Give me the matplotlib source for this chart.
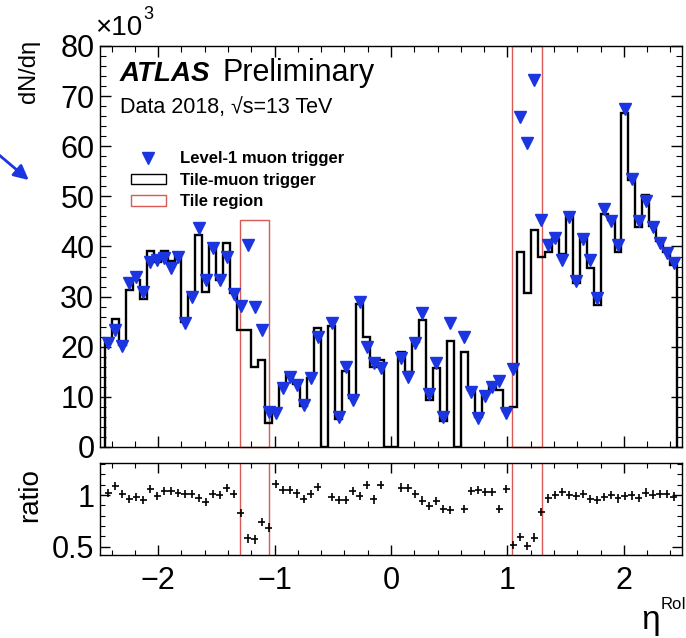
import numpy as np
import matplotlib
matplotlib.use("Agg")
import matplotlib.pyplot as plt
from matplotlib.patches import Rectangle, Patch, FancyArrowPatch
from matplotlib.lines import Line2D
from matplotlib.ticker import MultipleLocator, FixedLocator

# 82 RoI eta bins, 0.06 wide
edges = np.linspace(-2.46, 2.46, 83)

# Level-1 muon trigger, dN/deta [x1e3]
l1 = [20.8, 23.4, 20.2, 32.7, 34.0, 31.0, 37.0, 37.3, 37.7, 35.7,
      38.0, 24.8, 30.0, 43.6, 33.3, 39.7, 33.3, 38.0, 30.5, 28.2,
      40.3, 28.0, 23.4, 7.0, 6.7, 11.7, 14.0, 12.4, 8.4, 13.7,
      22.0, 0.0, 24.7, 5.9, 15.9, 9.4, 28.9, 20.0, 16.7, 15.8,
      0.0, 0.0, 17.7, 14.0, 20.7, 26.7, 10.5, 16.7, 5.9, 24.7,
      0.0, 22.0, 11.0, 5.7, 10.2, 12.0, 13.2, 6.7, 15.5, 65.9,
      60.6, 73.3, 45.3, 40.3, 41.6, 37.3, 45.8, 33.2, 41.5, 37.3,
      29.7, 47.5, 45.0, 40.2, 67.4, 53.5, 45.0, 49.0, 43.8, 40.7,
      38.7, 36.8]

# Tile-muon trigger, dN/deta [x1e3]
tile = [21.2, 25.5, 20.4, 31.4, 33.3, 29.5, 39.2, 36.9, 39.2, 37.1,
        38.8, 25.0, 30.3, 42.3, 31.0, 40.1, 33.3, 40.7, 30.8, 23.4,
        23.4, 16.0, 17.3, 4.8, 7.4, 12.3, 14.7, 12.6, 8.1, 13.8,
        23.8, 0.0, 24.2, 5.6, 15.1, 9.8, 28.6, 22.0, 16.0, 17.4,
        0.0, 0.0, 19.0, 15.0, 20.9, 25.3, 9.4, 15.7, 5.1, 21.2,
        0.0, 19.0, 11.4, 6.0, 10.5, 12.4, 11.4, 7.1, 8.0, 39.0,
        30.7, 43.2, 38.0, 39.0, 41.5, 38.5, 46.0, 32.8, 42.0, 35.8,
        28.3, 46.5, 45.2, 38.9, 66.6, 53.3, 43.8, 50.2, 44.0, 41.0,
        39.0, 36.3]

# Tile regions in eta and the height of their boxes in the top pad
tile_lo = [-1.30, 1.04]
tile_hi = [-1.05, 1.30]
tile_top = [45.3, 80.0]

BLUE, RED = "#1b35e0", "#d95a55"

plt.rcParams.update({
    "font.family": ["Liberation Sans", "DejaVu Sans"],
    "font.size": 22,
    "axes.linewidth": 1.0,
    "xtick.direction": "in", "ytick.direction": "in",
    "xtick.top": True, "ytick.right": True,
    "xtick.major.width": 1.0, "ytick.major.width": 1.0,
    "xtick.minor.width": 0.8, "ytick.minor.width": 0.8,
})

l1 = np.array(l1)
tile = np.array(tile)
cen = 0.5 * (edges[1:] + edges[:-1])
half = 0.5 * np.diff(edges)
has = (l1 > 0) & (tile > 0)
ratio = np.where(has, tile / np.where(l1 > 0, l1, 1), np.nan)

fig = plt.figure(figsize=(6.86, 6.38), dpi=100)
ax = fig.add_axes([0.1458, 0.2994, 0.8484, 0.6285])
rx = fig.add_axes([0.1458, 0.130, 0.8484, 0.1442])

# top pad
ax.stairs(tile, edges, baseline=0, color="black", lw=1.7, zorder=3)
ax.plot(cen[l1 > 0], l1[l1 > 0], ls="none", marker="v", ms=8,
        color=BLUE, mec=BLUE, zorder=4)
for lo, hi, top in zip(tile_lo, tile_hi, tile_top):
    ax.add_patch(Rectangle((lo, 0), hi - lo, top, fill=False, ec=RED,
                           lw=1.0, zorder=2, clip_on=False))
ax.set_xlim(-2.5, 2.5)
ax.set_ylim(0, 80)
ax.yaxis.set_major_locator(MultipleLocator(10))
ax.yaxis.set_minor_locator(MultipleLocator(2))
ax.xaxis.set_major_locator(MultipleLocator(1))
ax.xaxis.set_minor_locator(MultipleLocator(0.2))
ax.tick_params(which="major", length=8, labelsize=22, pad=4)
ax.tick_params(which="minor", length=4)
ax.tick_params(axis="x", labelbottom=False)

ax.text(0.034, 0.912, "ATLAS", transform=ax.transAxes, fontsize=20,
        fontweight="bold", fontstyle="italic")
ax.text(0.210, 0.912, "Preliminary", transform=ax.transAxes, fontsize=22)
ax.text(0.034, 0.833, "Data 2018, \u221as=13 TeV", transform=ax.transAxes,
        fontsize=15.5)

handles = [Line2D([], [], ls="none", marker="v", ms=8, color=BLUE),
           Patch(fc="none", ec="black", lw=1.0),
           Patch(fc="none", ec=RED, lw=1.0)]
ax.legend(handles, ["Level-1 muon trigger", "Tile-muon trigger",
                    "Tile region"],
          loc="upper left", bbox_to_anchor=(0.053, 0.738), frameon=False,
          prop={"size": 12, "weight": "bold"}, handlelength=2.1,
          handleheight=0.55, labelspacing=0.4, handletextpad=0.85,
          borderaxespad=0, borderpad=0)

# ratio pad
rx.errorbar(cen[has], ratio[has], xerr=half[has], yerr=0.04, fmt="none",
            ecolor="black", elinewidth=1.2, capsize=0, zorder=3)
for lo, hi in zip(tile_lo, tile_hi):
    rx.add_patch(Rectangle((lo, 0.3), hi - lo, 1.2, fill=False, ec=RED,
                           lw=1.0, zorder=2))
rx.set_xlim(-2.5, 2.5)
rx.set_ylim(0.42, 1.31)
rx.yaxis.set_major_locator(FixedLocator([0.5, 1.0]))
rx.yaxis.set_major_formatter(plt.FixedFormatter(["0.5", "1"]))
rx.yaxis.set_minor_locator(MultipleLocator(0.1))
rx.xaxis.set_major_locator(MultipleLocator(1))
rx.xaxis.set_minor_locator(MultipleLocator(0.2))
rx.tick_params(which="major", length=7, labelsize=22)
rx.tick_params(axis="x", pad=8)
rx.tick_params(axis="y", pad=4)
rx.tick_params(which="minor", length=3.5)

# axis titles
fig.text(0.043, 0.937, "dN/d\u03b7", rotation=90, ha="center", va="top",
         fontsize=17)
fig.text(0.044, 0.224, "ratio", rotation=90, ha="center", va="center",
         fontsize=20)
fig.text(0.962, 0.014, "\u03b7", ha="right", va="baseline", fontsize=24)
fig.text(0.963, 0.046, "RoI", ha="left", va="baseline", fontsize=12)
fig.text(0.138, 0.945, "\u00d710", ha="left", va="baseline", fontsize=20)
fig.text(0.209, 0.970, "3", ha="left", va="baseline", fontsize=13)

# blue slide arrow poking in from the left edge
fig.add_artist(FancyArrowPatch((-0.01, 0.765), (0.045, 0.715),
                               transform=fig.transFigure, arrowstyle="-|>",
                               mutation_scale=22, color=BLUE, lw=2))

fig.savefig("out.png", dpi=100)
